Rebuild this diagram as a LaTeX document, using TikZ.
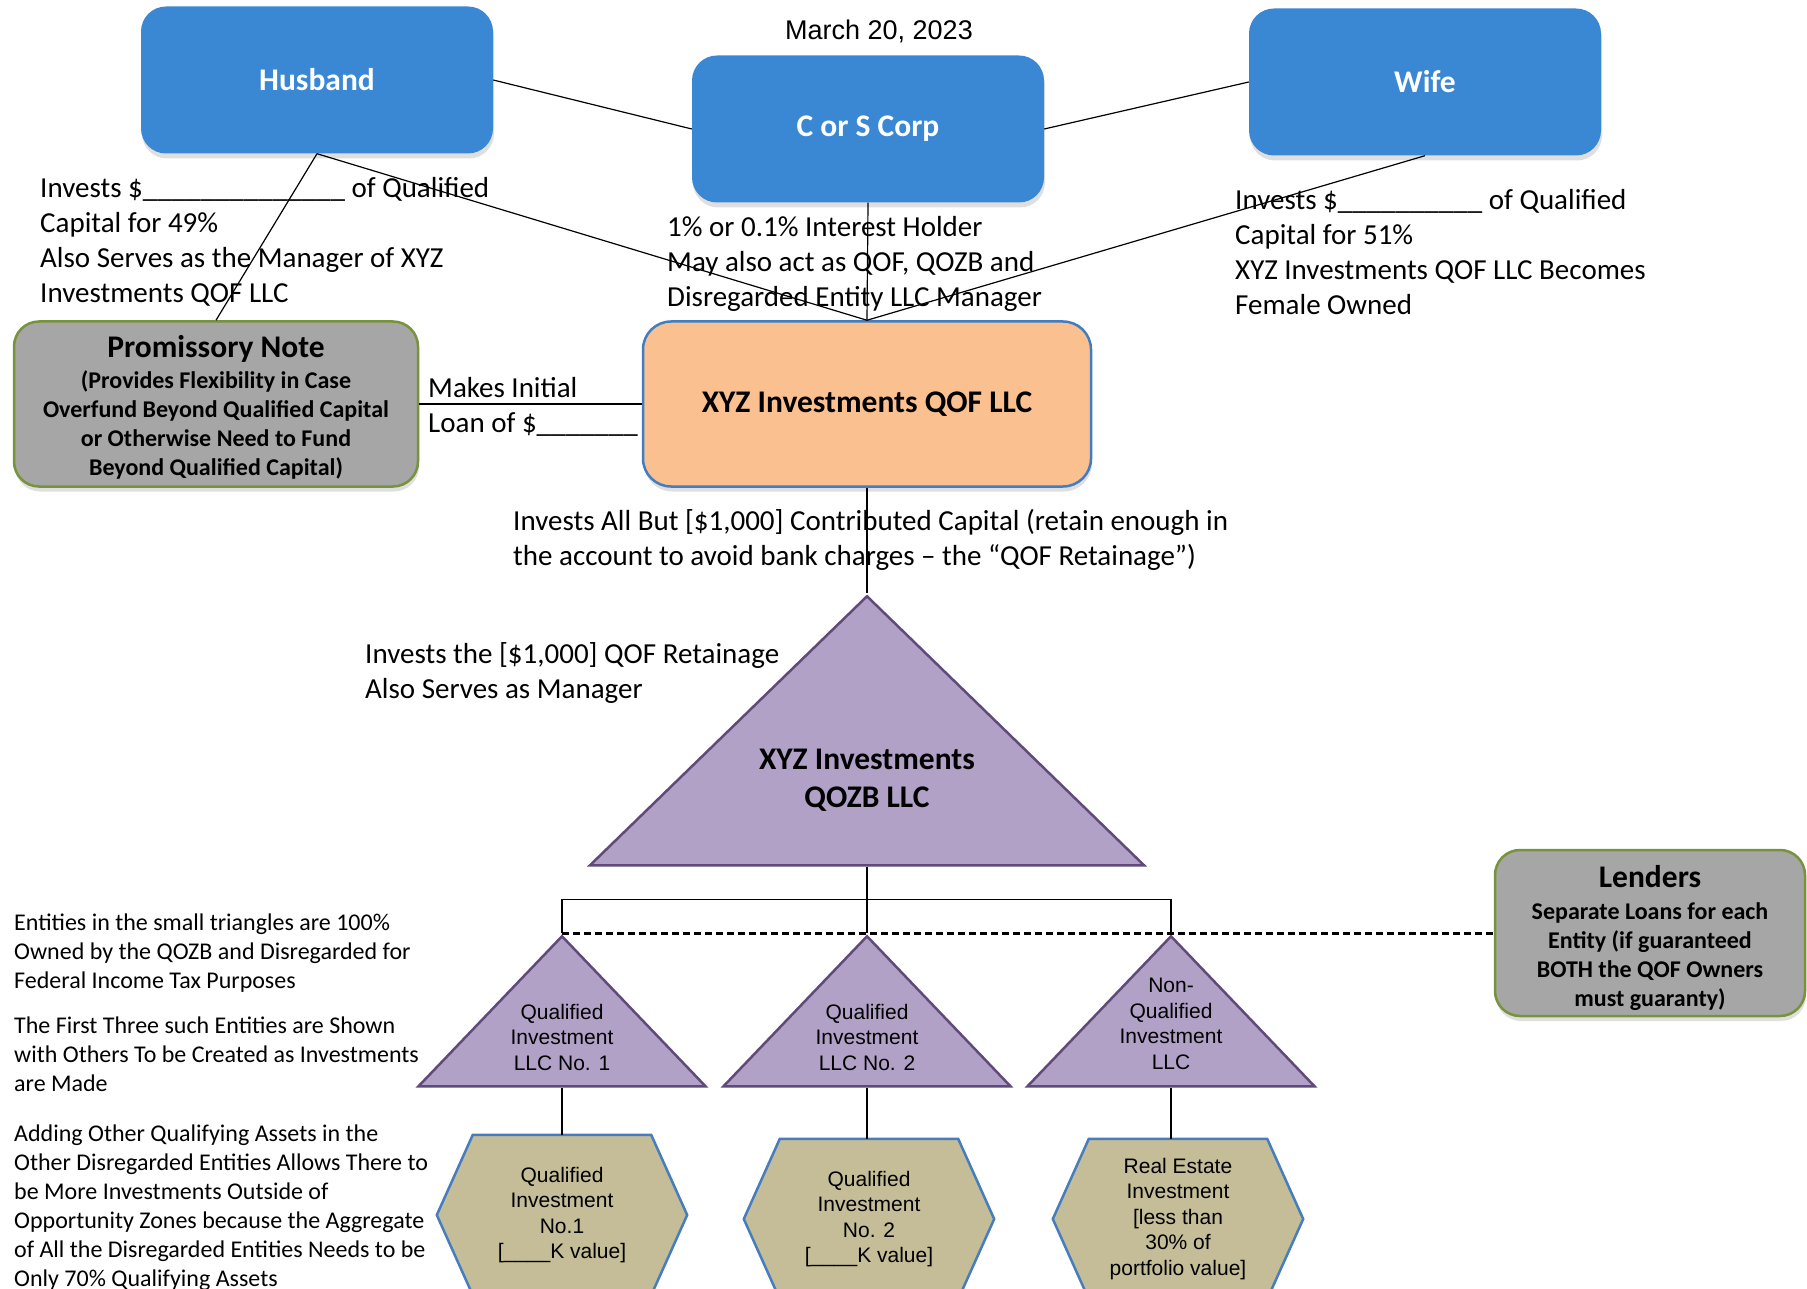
\documentclass[tikz,border=0pt]{standalone}
\usepackage{fontspec}
\setmainfont{Carlito}
\newfontfamily\arialfont{Liberation Sans}
\usetikzlibrary{shapes.geometric,shadows,backgrounds}
\definecolor{ownerblue}{RGB}{58,136,212}
\definecolor{qofpeach}{RGB}{250,192,143}
\definecolor{qofedge}{RGB}{65,125,195}
\definecolor{notegray}{RGB}{166,166,166}
\definecolor{noteedge}{RGB}{119,147,60}
\definecolor{llcpurple}{RGB}{178,161,199}
\definecolor{llcedge}{RGB}{96,74,123}
\definecolor{assettan}{RGB}{196,189,151}
\definecolor{assetedge}{RGB}{69,125,190}

\begin{document}
\begin{tikzpicture}[x=1pt,y=-1pt,
  owner/.style={fill=ownerblue,rounded corners=25pt,minimum width=352,minimum height=147,
    text=white,font=\fontsize{31.5}{36}\selectfont\bfseries,
    drop shadow={shadow xshift=1pt,shadow yshift=-5pt,opacity=0.25}},
  fund/.style={fill=qofpeach,draw=qofedge,line width=2.5pt,rounded corners=28pt,
    font=\fontsize{31.5}{36}\selectfont\bfseries,
    drop shadow={shadow xshift=1pt,shadow yshift=-5pt,opacity=0.25}},
  notebox/.style={fill=notegray,draw=noteedge,line width=2.5pt,rounded corners=25pt,
    align=center,font=\fontsize{24}{29}\selectfont\bfseries,inner sep=0pt,
    drop shadow={shadow xshift=1pt,shadow yshift=-5pt,opacity=0.25}},
  remark/.style={align=left,anchor=north west,inner sep=0pt,font=\fontsize{29}{35}\selectfont},
  sidenote/.style={align=left,anchor=north west,inner sep=0pt,font=\fontsize{24}{29}\selectfont},
  llc/.style={isosceles triangle,isosceles triangle stretches,shape border rotate=90,
    fill=llcpurple,draw=llcedge,line width=2.5pt,inner sep=0pt,anchor=apex},
  llctext/.style={align=center,inner sep=0pt,font=\arialfont\fontsize{21}{25.5}\selectfont},
  asset/.style={minimum width=250,minimum height=160,inner sep=0pt,align=center,
    font=\arialfont\fontsize{21}{25.5}\selectfont},
  wire/.style={line width=1.2pt}]
\useasboundingbox (0,0) rectangle (1807,1289);

% owners
\node[font=\arialfont\fontsize{27}{31}\selectfont] (date) at (879,31) {March 20, 2023};
\node[owner] (husband) at (317,80) {Husband};
\node[owner] (corp) at (868,129) {C or S Corp};
\node[owner] (wife) at (1425,82) {Wife};

\node[remark] (husbandtxt) at (40,177) {Invests \$\_\_\_\_\_\_\_\_\_\_\_\_\_\_ of Qualified\\Capital for 49\%\\Also Serves as the Manager of XYZ\\Investments QOF LLC};
\node[remark] (corptxt) at (667,216) {1\% or 0.1\% Interest Holder\\May also act as QOF, QOZB and\\Disregarded Entity LLC Manager};
\node[remark] (wifetxt) at (1235,189) {Invests \$\_\_\_\_\_\_\_\_\_\_ of Qualified\\Capital for 51\%\\XYZ Investments QOF LLC Becomes\\Female Owned};

% the fund and the note
\node[fund,minimum width=448,minimum height=165] (qof) at (867,404) {XYZ Investments QOF LLC};
\node[notebox,minimum width=404,minimum height=165] (note) at (216,404)
  {{\fontsize{31.5}{33}\selectfont\rule{0pt}{28pt}Promissory Note}\\[2pt](Provides Flexibility in Case\\Overfund Beyond Qualified Capital\\or Otherwise Need to Fund\\Beyond Qualified Capital)};
\node[remark] (loantxt) at (428,377) {Makes Initial\\Loan of \$\_\_\_\_\_\_\_};
\node[remark] (investtxt) at (513,509) {Invests All But [\$1,000] Contributed Capital (retain enough in\\the account to avoid bank charges -- the “QOF Retainage”)};
\node[remark] (retaintxt) at (365,642) {Invests the [\$1,000] QOF Retainage\\Also Serves as Manager};

\draw[wire] (husband.east) -- (corp.west);
\draw[wire] (wife.west) -- (corp.east);
\draw[wire] (husband.south) -- (qof.north);
\draw[wire] (wife.south) -- (qof.north);
\draw[wire] (corp.south) -- (qof.north);
\draw[wire] (husband.south) -- (note.north);
\draw[wire] (note.east) -- (qof.west);

% QOZB and its entities
\node[llc,minimum width=554,minimum height=269] (qozb) at (867,593) {};
\node[font=\fontsize{31.5}{38}\selectfont\bfseries,align=center] (qozbtxt) at (867,780) {XYZ Investments\\QOZB LLC};
\draw[wire] (qof.south) -- (qozb.apex);

\node[llc,minimum width=287,minimum height=150] (llc1) at (562,933) {};
\node[llc,minimum width=287,minimum height=150] (llc2) at (867,933) {};
\node[llc,minimum width=287,minimum height=150] (llc3) at (1171,933) {};
\node[llctext] (llc1txt) at (562,1037) {Qualified\\Investment\\LLC No. 1};
\node[llctext] (llc2txt) at (867,1037) {Qualified\\Investment\\LLC No. 2};
\node[llctext] (llc3txt) at (1171,1024) {Non-\\Qualified\\Investment\\LLC};

\draw[wire] (qozb.lower side) -- ++(0,33) coordinate (fork);
\draw[wire] (llc1.apex) |- (fork) -| (llc3.apex);
\draw[wire] (fork) -- (llc2.apex);

\node[notebox,minimum width=310,minimum height=166] (lenders) at (1650,933)
  {{\fontsize{31.5}{33}\selectfont\rule{0pt}{33pt}Lenders}\\[3pt]Separate Loans for each\\Entity (if guaranteed\\BOTH the QOF Owners\\must guaranty)};
\draw[line width=3pt,dash pattern=on 7pt off 4pt] (llc1.apex) -- (llc1.apex -| lenders.west);

% assets
\node[asset] (hex1) at (562,1215) {Qualified\\Investment\\No.1\\{}[\_\_\_\_K value]};
\node[asset] (hex2) at (869,1219) {Qualified\\Investment\\No. 2\\{}[\_\_\_\_K value]};
\node[asset] (hex3) at (1178,1219) {Real Estate\\Investment\\{}[less than\\30\% of\\portfolio value]};
\begin{scope}[on background layer]
\foreach \h in {hex1,hex2,hex3}
  \draw[fill=assettan,draw=assetedge,line width=2.5pt]
    ([xshift=36pt]\h.north west) -- ([xshift=-36pt]\h.north east) -- (\h.east)
    -- ([xshift=-36pt]\h.south east) -- ([xshift=36pt]\h.south west) -- (\h.west) -- cycle;
\end{scope}
\draw[wire] (llc1.lower side) -- (hex1.north);
\draw[wire] (llc2.lower side) -- (llc2.lower side |- hex2.north);
\draw[wire] (llc3.lower side) -- (llc3.lower side |- hex3.north);

\node[sidenote] (ownnote) at (14,914) {Entities in the small triangles are 100\%\\Owned by the QOZB and Disregarded for\\Federal Income Tax Purposes};
\node[sidenote] (firstnote) at (14,1017) {The First Three such Entities are Shown\\with Others To be Created as Investments\\are Made};
\node[sidenote] (addnote) at (14,1125) {Adding Other Qualifying Assets in the\\Other Disregarded Entities Allows There to\\be More Investments Outside of\\Opportunity Zones because the Aggregate\\of All the Disregarded Entities Needs to be\\Only 70\% Qualifying Assets};
\end{tikzpicture}
\end{document}
